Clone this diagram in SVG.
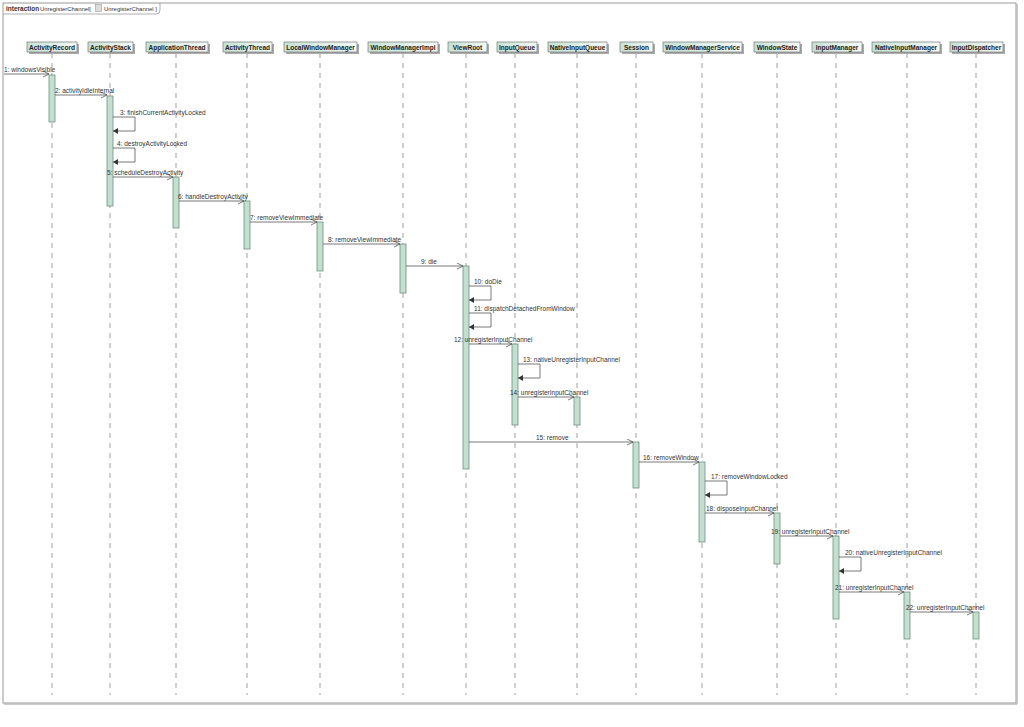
<svg xmlns="http://www.w3.org/2000/svg" width="1024" height="727" viewBox="0 0 1024 727">
<style>
text{font-family:"Liberation Sans",Arial,sans-serif;font-size:6.5px;fill:#333}
.hd{font-weight:bold;font-size:6.5px;fill:#222;text-anchor:middle}
.box{fill:url(#bg);stroke:#777;stroke-width:0.7}
.sh{fill:#aaa}
.life{stroke:#888;stroke-width:0.8;stroke-dasharray:5,5}
.act{fill:#c2dfd0;stroke:#6f8f80;stroke-width:0.8}
.msg{stroke:#555;stroke-width:0.8;fill:none}
</style>
<defs>
<linearGradient id="bg" x1="0" y1="0" x2="1" y2="0"><stop offset="0" stop-color="#c6e2d4"/><stop offset="1" stop-color="#f4faf7"/></linearGradient>
<marker id="op" markerWidth="8" markerHeight="8" refX="6" refY="3" orient="auto" markerUnits="userSpaceOnUse"><path d="M0,0 L6,3 L0,6" fill="none" stroke="#555" stroke-width="0.8"/></marker>
<marker id="fl" markerWidth="8" markerHeight="8" refX="5" refY="3" orient="auto" markerUnits="userSpaceOnUse"><path d="M0,0 L5,3 L0,6 Z" fill="#333"/></marker>
</defs>
<rect width="1024" height="727" fill="#fff"/>
<g id="frame">
<rect x="3" y="3" width="1013" height="700" fill="none" stroke="#999" stroke-width="1"/>
<line x1="1017" y1="4" x2="1017" y2="704" stroke="#bbb" stroke-width="1.5"/>
<line x1="4" y1="704" x2="1017" y2="704" stroke="#bbb" stroke-width="1.5"/>
<path d="M3,14 H156 Q160,14 160,10 V3" fill="none" stroke="#999" stroke-width="0.8"/>
<text x="6" y="10.5" style="font-weight:bold">interaction</text>
<text x="40" y="10.5" textLength="51" lengthAdjust="spacingAndGlyphs" style="font-size:6.2px">UnregisterChannel[</text>
<rect x="95.5" y="4.5" width="6" height="7" fill="#ddd" stroke="#888" stroke-width="0.5"/>
<text x="104" y="10.5" textLength="53" lengthAdjust="spacingAndGlyphs" style="font-size:6.2px">UnregisterChannel ]</text>
</g>
<g id="lifelines">
<line class="life" x1="52" y1="53" x2="52" y2="695"/>
<line class="life" x1="110" y1="53" x2="110" y2="695"/>
<line class="life" x1="176" y1="53" x2="176" y2="695"/>
<line class="life" x1="247" y1="53" x2="247" y2="695"/>
<line class="life" x1="320" y1="53" x2="320" y2="695"/>
<line class="life" x1="403" y1="53" x2="403" y2="695"/>
<line class="life" x1="466" y1="53" x2="466" y2="695"/>
<line class="life" x1="515" y1="53" x2="515" y2="695"/>
<line class="life" x1="577" y1="53" x2="577" y2="695"/>
<line class="life" x1="636" y1="53" x2="636" y2="695"/>
<line class="life" x1="702" y1="53" x2="702" y2="695"/>
<line class="life" x1="777" y1="53" x2="777" y2="695"/>
<line class="life" x1="836" y1="53" x2="836" y2="695"/>
<line class="life" x1="907" y1="53" x2="907" y2="695"/>
<line class="life" x1="976" y1="53" x2="976" y2="695"/>
</g>
<g id="n-ActivityRecord"><rect class="sh" x="29" y="44" width="50" height="10"/><rect class="box" x="27" y="42" width="50" height="10"/><text class="hd" x="52" y="49.5">ActivityRecord</text><rect class="act" x="49" y="75" width="6" height="47"/></g>
<g id="n-ActivityStack"><rect class="sh" x="90" y="44" width="45" height="10"/><rect class="box" x="88" y="42" width="45" height="10"/><text class="hd" x="110.5" y="49.5">ActivityStack</text><rect class="act" x="107" y="96" width="6" height="110"/></g>
<g id="n-ApplicationThread"><rect class="sh" x="148" y="44" width="62" height="10"/><rect class="box" x="146" y="42" width="62" height="10"/><text class="hd" x="177" y="49.5">ApplicationThread</text><rect class="act" x="173" y="177" width="6" height="51"/></g>
<g id="n-ActivityThread"><rect class="sh" x="225" y="44" width="49" height="10"/><rect class="box" x="223" y="42" width="49" height="10"/><text class="hd" x="247.5" y="49.5">ActivityThread</text><rect class="act" x="244" y="201" width="6" height="48"/></g>
<g id="n-LocalWindowManager"><rect class="sh" x="286" y="44" width="73" height="10"/><rect class="box" x="284" y="42" width="73" height="10"/><text class="hd" x="320.5" y="49.5">LocalWindowManager</text><rect class="act" x="317" y="222" width="6" height="49"/></g>
<g id="n-WindowManagerImpl"><rect class="sh" x="370" y="44" width="70" height="10"/><rect class="box" x="368" y="42" width="70" height="10"/><text class="hd" x="403" y="49.5">WindowManagerImpl</text><rect class="act" x="400" y="244" width="6" height="49"/></g>
<g id="n-ViewRoot"><rect class="sh" x="450" y="44" width="39" height="10"/><rect class="box" x="448" y="42" width="39" height="10"/><text class="hd" x="467.5" y="49.5">ViewRoot</text><rect class="act" x="463" y="266" width="6" height="203"/></g>
<g id="n-InputQueue"><rect class="sh" x="499" y="44" width="40" height="10"/><rect class="box" x="497" y="42" width="40" height="10"/><text class="hd" x="517" y="49.5">InputQueue</text><rect class="act" x="512" y="344" width="6" height="81"/></g>
<g id="n-NativeInputQueue"><rect class="sh" x="550" y="44" width="59" height="10"/><rect class="box" x="548" y="42" width="59" height="10"/><text class="hd" x="577.5" y="49.5">NativeInputQueue</text><rect class="act" x="574" y="397" width="6" height="28"/></g>
<g id="n-Session"><rect class="sh" x="622" y="44" width="33" height="10"/><rect class="box" x="620" y="42" width="33" height="10"/><text class="hd" x="636.5" y="49.5">Session</text><rect class="act" x="633" y="442" width="6" height="46"/></g>
<g id="n-WindowManagerService"><rect class="sh" x="665" y="44" width="79" height="10"/><rect class="box" x="663" y="42" width="79" height="10"/><text class="hd" x="702.5" y="49.5">WindowManagerService</text><rect class="act" x="699" y="462" width="6" height="80"/></g>
<g id="n-WindowState"><rect class="sh" x="756" y="44" width="46" height="10"/><rect class="box" x="754" y="42" width="46" height="10"/><text class="hd" x="777" y="49.5">WindowState</text><rect class="act" x="774" y="513" width="6" height="51"/></g>
<g id="n-InputManager"><rect class="sh" x="814" y="44" width="50" height="10"/><rect class="box" x="812" y="42" width="50" height="10"/><text class="hd" x="837" y="49.5">InputManager</text><rect class="act" x="833" y="536" width="6" height="83"/></g>
<g id="n-NativeInputManager"><rect class="sh" x="874" y="44" width="68" height="10"/><rect class="box" x="872" y="42" width="68" height="10"/><text class="hd" x="906" y="49.5">NativeInputManager</text><rect class="act" x="904" y="592" width="6" height="47"/></g>
<g id="n-InputDispatcher"><rect class="sh" x="952" y="44" width="53" height="10"/><rect class="box" x="950" y="42" width="53" height="10"/><text class="hd" x="976.5" y="49.5">InputDispatcher</text><rect class="act" x="973" y="612" width="6" height="27"/></g>
<g id="connectors">
<line class="msg" x1="4" y1="74" x2="49" y2="74" marker-end="url(#op)"/><text x="4" y="72">1:  windowsVisible</text>
<line class="msg" x1="55" y1="95" x2="107" y2="95" marker-end="url(#op)"/><text x="55" y="93">2:  activityIdleInternal</text>
<path class="msg" d="M113,117 H135 V131 H113" marker-end="url(#fl)"/><text x="120" y="115">3:  finishCurrentActivityLocked</text>
<path class="msg" d="M113,148 H135 V162 H113" marker-end="url(#fl)"/><text x="117" y="146">4:  destroyActivityLocked</text>
<line class="msg" x1="113" y1="177" x2="173" y2="177" marker-end="url(#op)"/><text x="107" y="175">5:  scheduleDestroyActivity</text>
<line class="msg" x1="179" y1="201" x2="244" y2="201" marker-end="url(#op)"/><text x="178" y="199">6:  handleDestroyActivity</text>
<line class="msg" x1="250" y1="222" x2="317" y2="222" marker-end="url(#op)"/><text x="250" y="220">7:  removeViewImmediate</text>
<line class="msg" x1="323" y1="244" x2="400" y2="244" marker-end="url(#op)"/><text x="328" y="242">8:  removeViewImmediate</text>
<line class="msg" x1="406" y1="266" x2="463" y2="266" marker-end="url(#op)"/><text x="421" y="264">9:  die</text>
<path class="msg" d="M469,286 H491 V300 H469" marker-end="url(#fl)"/><text x="474" y="284">10:  doDie</text>
<path class="msg" d="M469,313 H491 V327 H469" marker-end="url(#fl)"/><text x="474" y="311">11:  dispatchDetachedFromWindow</text>
<line class="msg" x1="469" y1="344" x2="512" y2="344" marker-end="url(#op)"/><text x="454" y="342">12:  unregisterInputChannel</text>
<path class="msg" d="M518,364 H540 V378 H518" marker-end="url(#fl)"/><text x="523" y="362">13:  nativeUnregisterInputChannel</text>
<line class="msg" x1="518" y1="397" x2="574" y2="397" marker-end="url(#op)"/><text x="510" y="395">14:  unregisterInputChannel</text>
<line class="msg" x1="469" y1="442" x2="633" y2="442" marker-end="url(#op)"/><text x="536" y="440">15:  remove</text>
<line class="msg" x1="639" y1="462" x2="699" y2="462" marker-end="url(#op)"/><text x="643" y="460">16:  removeWindow</text>
<path class="msg" d="M705,481 H727 V495 H705" marker-end="url(#fl)"/><text x="711" y="479">17:  removeWindowLocked</text>
<line class="msg" x1="705" y1="513" x2="774" y2="513" marker-end="url(#op)"/><text x="706" y="511">18:  disposeInputChannel</text>
<line class="msg" x1="780" y1="536" x2="833" y2="536" marker-end="url(#op)"/><text x="771" y="534">19:  unregisterInputChannel</text>
<path class="msg" d="M839,557 H861 V571 H839" marker-end="url(#fl)"/><text x="845" y="555">20:  nativeUnregisterInputChannel</text>
<line class="msg" x1="839" y1="592" x2="904" y2="592" marker-end="url(#op)"/><text x="835" y="590">21:  unregisterInputChannel</text>
<line class="msg" x1="910" y1="612" x2="973" y2="612" marker-end="url(#op)"/><text x="906" y="610">22:  unregisterInputChannel</text>
</g>
</svg>
